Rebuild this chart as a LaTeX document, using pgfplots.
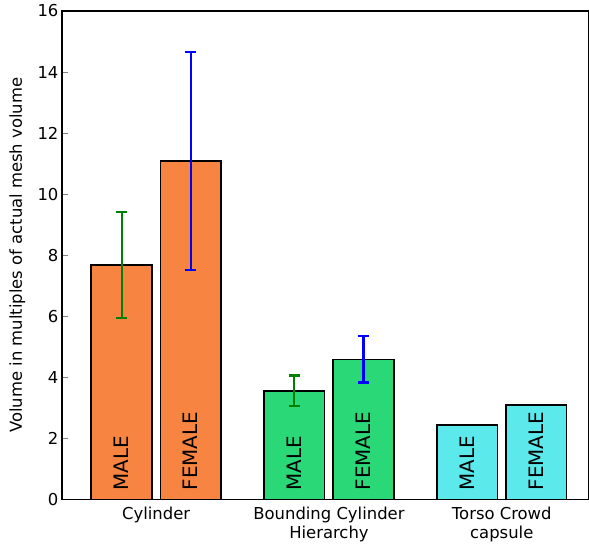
\documentclass[border=0pt]{standalone}
\usepackage{fontspec}
\setmainfont{DejaVu Sans}
\usepackage{pgfplots}
\pgfplotsset{compat=1.18}
\definecolor{cOrange}{RGB}{247,132,64}
\definecolor{cGreen}{RGB}{42,216,120}
\definecolor{cCyan}{RGB}{92,233,235}
\definecolor{eGreen}{RGB}{0,128,0}
\definecolor{eBlue}{RGB}{0,0,255}
\tikzset{glab/.style={rotate=90, anchor=west, inner sep=0pt, font=\fontsize{20}{24}\selectfont}}
\pgfplotsset{
  ebar/.style={color=#1, line width=2.1bp, mark=-, mark size=5.3bp,
    mark options={solid, line width=2.1bp, #1}}
}
\begin{document}
\begin{tikzpicture}
\begin{axis}[
  at={(0,0)}, anchor=south west,
  scale only axis,
  width=527bp, height=489bp,
  xmin=-0.545, xmax=2.501,
  ymin=0, ymax=16,
  ytick={0,2,...,16},
  xtick={0,1,2},
  xticklabels={Cylinder, {Bounding Cylinder\\Hierarchy}, {Torso Crowd\\capsule}},
  xticklabel style={align=center, font=\fontsize{16.5}{19.5}\selectfont, yshift=-4bp},
  yticklabel style={font=\fontsize{16.5}{19.5}\selectfont},
  /pgf/number format/assume math mode=true,
  x tick style={draw=none},
  ytick pos=left,
  tick align=inside,
  major tick length=6bp,
  axis line style={line width=1.3bp},
  ylabel={Volume in multiples of actual mesh volume},
  ylabel style={at={(axis description cs:-0.0845,0.5)}, anchor=center, font=\fontsize{16.5}{19.5}\selectfont},
  clip=false,
]
% bars
\addplot[ybar, bar shift=0pt, bar width=0.35, fill=cOrange, draw=black, line width=1.7bp] coordinates {(-0.2,7.67) (0.2,11.08)};
\addplot[ybar, bar shift=0pt, bar width=0.35, fill=cGreen, draw=black, line width=1.7bp] coordinates {(0.8,3.56) (1.2,4.58)};
\addplot[ybar, bar shift=0pt, bar width=0.35, fill=cCyan, draw=black, line width=1.7bp] coordinates {(1.8,2.43) (2.2,3.10)};
% error bars: lower and upper ends
\addplot[ebar=eGreen] coordinates {(-0.2,5.94) (-0.2,9.43)};
\addplot[ebar=eGreen] coordinates {(0.8,3.05) (0.8,4.06)};
\addplot[ebar=eBlue] coordinates {(0.2,7.53) (0.2,14.65)};
\addplot[ebar=eBlue] coordinates {(1.2,3.83) (1.2,5.36)};
% gender labels
\node[glab] at (axis cs:-0.2,0) {\hspace*{9bp}MALE};
\node[glab] at (axis cs:0.8,0) {\hspace*{9bp}MALE};
\node[glab] at (axis cs:1.8,0) {\hspace*{9bp}MALE};
\node[glab] at (axis cs:0.2,0) {\hspace*{9bp}FEMALE};
\node[glab] at (axis cs:1.2,0) {\hspace*{9bp}FEMALE};
\node[glab] at (axis cs:2.2,0) {\hspace*{9bp}FEMALE};
\end{axis}
\path[use as bounding box] (-62bp,-47bp) rectangle (527bp,500bp);
\end{tikzpicture}
\end{document}
